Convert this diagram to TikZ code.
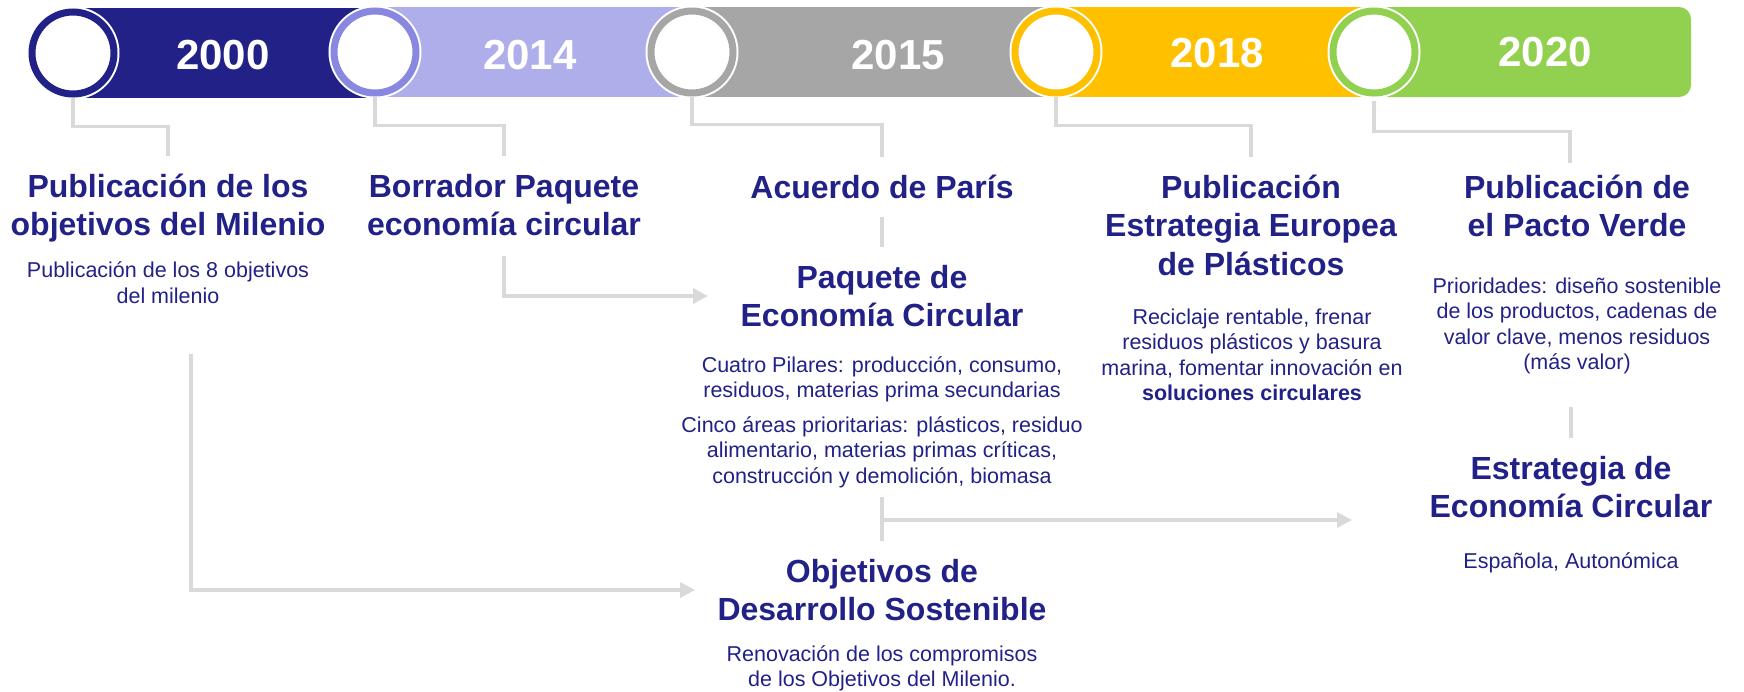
\documentclass[tikz,border=0pt]{standalone}
\usepackage{fontspec}
\setmainfont{Liberation Sans}
\usetikzlibrary{arrows.meta}
\definecolor{navy}{RGB}{33,33,135}
\definecolor{lav}{RGB}{174,174,235}
\definecolor{lavring}{RGB}{136,136,224}
\definecolor{gry}{RGB}{166,166,166}
\definecolor{gold}{RGB}{255,192,0}
\definecolor{grn}{RGB}{146,208,80}
\definecolor{conncol}{RGB}{217,217,217}
\newcommand{\hstrut}{\rule{0pt}{20.5pt}}
\newcommand{\bstrut}{\rule{0pt}{10.75pt}}
\begin{document}
\begin{tikzpicture}[x=0.5pt,y=-0.5pt,
 yearcirc/.style={circle, fill=white, draw=#1, line width=3.5pt, minimum size=41pt, inner sep=0pt, preaction={draw=white, line width=5.5pt}},
 year/.style={text=white, font=\fontsize{21}{25}\selectfont\bfseries, inner sep=0pt},
 head/.style={text=navy, font=\fontsize{16}{19.25}\selectfont\bfseries, align=center, inner sep=0pt, anchor=north},
 body/.style={text=navy, font=\fontsize{10.75}{12.7}\selectfont, align=center, inner sep=0pt, anchor=north},
 conn/.style={draw=conncol, line width=1.75pt},
 arr/.style={conn, -{Triangle[length=7.5pt,width=7.5pt]}},
]
\useasboundingbox (0,0) rectangle (1744,691);
% bars
\fill[navy] (73,8) rectangle (375,98);
\fill[lav] (375,7) rectangle (692,97);
\fill[gry] (692,7) rectangle (1056,97);
\fill[gold] (1056,7) rectangle (1374,97);
\fill[grn, rounded corners=6pt] (1374,7) rectangle (1691,97);
% circles
\node[yearcirc=navy] (c2000) at (73,53) {};
\node[yearcirc=lavring] (c2014) at (375,52) {};
\node[yearcirc=gry] (c2015) at (692,52) {};
\node[yearcirc=gold] (c2018) at (1056,52) {};
\node[yearcirc=grn] (c2020) at (1374,52) {};
% years
\node[year] (y2000) at (223,55) {2000};
\node[year] (y2014) at (530,55) {2014};
\node[year] (y2015) at (898,55) {2015};
\node[year] (y2018) at (1217,53) {2018};
\node[year] (y2020) at (1545,52) {2020};
% texts
\node[head] (h2000) at (168,156) {\hstrut Publicación de los\\objetivos del Milenio};
\node[body] (b2000) at (168,256) {\bstrut Publicación de los 8 objetivos\\del milenio};
\node[head] (h2014) at (504,156) {\hstrut Borrador Paquete\\economía circular};
\node[head] (h2015) at (882,157) {\hstrut Acuerdo de París};
\node[head] (p2015) at (882,247) {\hstrut Paquete de\\Economía Circular};
\node[body] (pb1) at (882,350.5) {\bstrut Cuatro Pilares: producción, consumo,\\residuos, materias prima secundarias};
\node[body] (pb2) at (882,410.5) {\bstrut Cinco áreas prioritarias: plásticos, residuo\\alimentario, materias primas críticas,\\construcción y demolición, biomasa};
\node[head] (ods) at (882,541) {\hstrut Objetivos de\\Desarrollo Sostenible};
\node[body] (odsb) at (882,639.5) {\bstrut Renovación de los compromisos\\de los Objetivos del Milenio.};
\node[head] (h2018) at (1251,157) {\hstrut Publicación\\Estrategia Europea\\de Plásticos};
\node[body] (b2018) at (1252,302.5) {\bstrut Reciclaje rentable, frenar\\residuos plásticos y basura\\marina, fomentar innovación en\\\textbf{soluciones circulares}};
\node[head] (h2020) at (1577,157) {\hstrut Publicación de\\el Pacto Verde};
\node[body] (b2020) at (1577,271.5) {\bstrut Prioridades: diseño sostenible\\de los productos, cadenas de\\valor clave, menos residuos\\(más valor)};
\node[head] (est) at (1571,438) {\hstrut Estrategia de\\Economía Circular};
\node[body] (estb) at (1571,546.5) {\bstrut Española, Autonómica};
% connectors
\draw[conn] (c2000.south) -- ++(0,29) -| (h2000.north);
\draw[conn] (c2014.south) -- ++(0,29) -| (h2014.north);
\draw[conn] (c2015.south) -- ++(0,28) -| (h2015.north);
\draw[conn] (c2018.south) -- ++(0,29) -| (h2018.north);
\draw[conn] ([yshift=-2pt]c2020.south) -- ++(0,31) -| ([xshift=-3.5pt,yshift=-3pt]h2020.north);
\draw[conn] (h2015.south) ++(0,18) -- (p2015.north);
\coordinate (t2014) at (708,296);
\draw[arr] (h2014.south) ++(0,19) |- (t2014);
\coordinate (l1) at (191,354);
\coordinate (l2) at (695,590);
\draw[arr] (l1) |- (l2);
\draw[conn] (ods.north) -- ++(0,-44);
\draw[arr] (ods.north) ++(0,-21) -- ++(470,0);
\draw[conn] (est.north) -- ++(0,-31);
\end{tikzpicture}
\end{document}
